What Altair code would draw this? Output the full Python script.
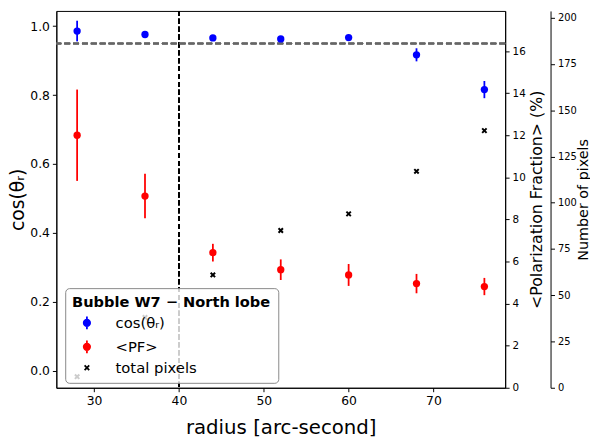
import altair as alt
import pandas as pd

# ---- data ----
radius = [28, 36, 44, 52, 60, 68, 76]
cos_val = [0.986, 0.976, 0.966, 0.963, 0.967, 0.917, 0.816]
cos_err = [0.030, 0.006, 0.005, 0.005, 0.005, 0.019, 0.025]
pf_val = [12.0, 9.11, 6.42, 5.61, 5.36, 4.95, 4.81]
pf_err = [2.17, 1.06, 0.42, 0.49, 0.52, 0.46, 0.41]
pixels = [6, 38, 61, 85, 94, 117, 139]

series_names = ["cos(θᵣ)", "<PF>", "total pixels"]
series_colors = ["#0000ff", "#ff0000", "#000000"]

df = pd.DataFrame({
    "radius": radius,
    "cos": cos_val,
    "cos_lo": [v - e for v, e in zip(cos_val, cos_err)],
    "cos_hi": [v + e for v, e in zip(cos_val, cos_err)],
    "pf": pf_val,
    "pf_lo": [v - e for v, e in zip(pf_val, pf_err)],
    "pf_hi": [v + e for v, e in zip(pf_val, pf_err)],
    "pix": pixels,
})
legend_df = pd.DataFrame({"series": series_names, "radius": [radius[0]] * 3, "pix": [pixels[0]] * 3})

FONT = "DejaVu Sans"

x_scale = alt.Scale(domain=[25.55, 78.45], nice=False, zero=False)
x_axis = alt.Axis(values=[30, 40, 50, 60, 70], labelFontSize=12.5, titleFontSize=20,
                  titleFontWeight="normal", tickSize=4, labelPadding=3, titlePadding=11,
                  grid=False, domainColor="black", tickColor="black",
                  labelColor="black", titleColor="black")
X = alt.X("radius:Q", scale=x_scale, axis=x_axis, title="radius [arc-second]")

cos_scale = alt.Scale(domain=[-0.0501, 1.0444], nice=False, zero=False)
pf_scale = alt.Scale(domain=[0, 17.906], nice=False, zero=False)
pix_scale = alt.Scale(domain=[0, 203.7], nice=False, zero=False)

cos_axis = alt.Axis(orient="left", values=[0, 0.2, 0.4, 0.6, 0.8, 1.0], format=".1f",
                    labelFontSize=12.5, titleFontSize=19, titleFontWeight="normal",
                    tickSize=4, labelPadding=3, titlePadding=2, grid=False,
                    domainColor="black", tickColor="black", labelColor="black", titleColor="black")
pf_axis = alt.Axis(orient="right", values=list(range(0, 19, 2)), labelFontSize=10.5,
                   titleFontSize=16, titleFontWeight="normal", titleAngle=270,
                   titleBaseline="top", tickSize=4, labelPadding=3, titlePadding=3, grid=False,
                   domainColor="black", tickColor="black", labelColor="black", titleColor="black")
pix_axis = alt.Axis(orient="right", offset=46, values=list(range(0, 201, 25)), labelFontSize=10,
                    titleFontSize=14.5, titleFontWeight="normal", titleAngle=270,
                    titleBaseline="top", tickSize=4, labelPadding=3, titlePadding=0, grid=False,
                    domainColor="black", tickColor="black", labelColor="black", titleColor="black")

base = alt.Chart(df)

vline = alt.Chart(df).mark_rule(color="black", strokeWidth=1.5, strokeDash=[5, 3]).encode(
    x=alt.XDatum(40, scale=x_scale, axis=x_axis, type="quantitative"))
hline = alt.Chart(df).mark_rule(color="#666666", strokeWidth=1.5, strokeDash=[6, 3]).encode(
    y=alt.YDatum(0.95, scale=cos_scale, axis=None, type="quantitative"))

cos_bar = base.mark_rule(color="#0000ff", strokeWidth=1.8).encode(
    x=X, y=alt.Y("cos_lo:Q", scale=cos_scale, axis=None), y2="cos_hi:Q")
cos_pt = base.mark_circle(color="#0000ff", size=55, opacity=1).encode(
    x=X, y=alt.Y("cos:Q", scale=cos_scale, axis=cos_axis, title="cos(θᵣ)"))

pf_bar = base.mark_rule(color="#ff0000", strokeWidth=1.8).encode(
    x=X, y=alt.Y("pf_lo:Q", scale=pf_scale, axis=None), y2="pf_hi:Q")
pf_pt = base.mark_circle(color="#ff0000", size=55, opacity=1).encode(
    x=X, y=alt.Y("pf:Q", scale=pf_scale, axis=pf_axis, title="<Polarization Fraction> (%)"))

pix_pt = base.mark_point(shape="M-1,-1L1,1M1,-1L-1,1", size=20, strokeWidth=2,
                         color="black", opacity=1).encode(
    x=X, y=alt.Y("pix:Q", scale=pix_scale, axis=pix_axis, title="Number of pixels"))

bar_circle = "M0,-1L0,1M0.5,0A0.5,0.5,0,1,1,-0.5,0A0.5,0.5,0,1,1,0.5,0Z"
x_shape = "M-0.36,-0.36L0.36,0.36M0.36,-0.36L-0.36,0.36"
leg = alt.Legend(title="\u00a0Bubble W7 − North lobe\u00a0", orient="none", legendX=9, legendY=281,
                 fillColor="rgba(255,255,255,0.8)", strokeColor="#888888", cornerRadius=4,
                 padding=7, titleFontSize=14.8, titleFontWeight="bold", titleAnchor="start",
                 titleBaseline="top", titleLimit=400,
                 titleColor="black", labelColor="black", labelFontSize=15, symbolSize=169,
                 symbolStrokeWidth=1.8, symbolOffset=7.5, labelOffset=21.5, rowPadding=3.2,
                 titlePadding=6, symbolOpacity=1)
legend_layer = alt.Chart(legend_df).mark_point(opacity=0, filled=True, size=169).encode(
    x=X,
    y=alt.Y("pix:Q", scale=pix_scale, axis=None),
    fill=alt.Fill("series:N", scale=alt.Scale(domain=series_names, range=series_colors), legend=leg),
    stroke=alt.Stroke("series:N", scale=alt.Scale(domain=series_names, range=series_colors), legend=leg),
    shape=alt.Shape("series:N", scale=alt.Scale(domain=series_names, range=[bar_circle, bar_circle, x_shape]), legend=leg),
)

chart = alt.layer(vline, hline, cos_bar, cos_pt, pf_bar, pf_pt, pix_pt, legend_layer).resolve_scale(
    y="independent"
).properties(
    width=455, height=382,
    padding={"left": 49, "top": 0, "right": 86, "bottom": 52},
    autosize=alt.AutoSizeParams(type="none"),
).configure(font=FONT).configure_view(stroke="black", strokeWidth=1)

chart.save("out.html", embed_options={"renderer": "svg", "actions": False})
